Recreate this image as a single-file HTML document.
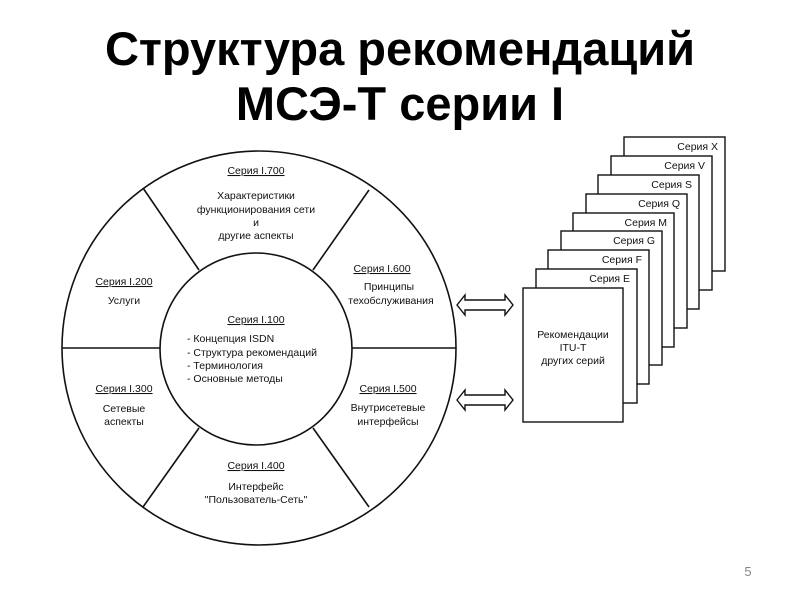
<!DOCTYPE html>
<html><head><meta charset="utf-8"><style>
body{margin:0;width:800px;height:600px;background:#fff;overflow:hidden;font-family:"Liberation Sans",sans-serif}
</style></head><body>
<svg width="800" height="600" xmlns="http://www.w3.org/2000/svg" font-family="Liberation Sans, sans-serif">
<text x="400" y="65" font-size="47" font-weight="bold" text-anchor="middle" fill="#000">Структура рекомендаций</text>
<text x="400" y="120" font-size="47" font-weight="bold" text-anchor="middle" fill="#000">МСЭ-Т серии I</text>
<text x="748" y="576" font-size="13" fill="#888" text-anchor="middle">5</text>
<g stroke="#111" stroke-width="1.6" fill="none">
<circle cx="259" cy="348" r="197"/>
<circle cx="256" cy="349" r="96"/>
<line x1="62" y1="348" x2="160" y2="348"/>
<line x1="352" y1="348" x2="456" y2="348"/>
<line x1="143" y1="188" x2="199" y2="270"/>
<line x1="369" y1="190" x2="313" y2="270"/>
<line x1="143" y1="507" x2="199" y2="428"/>
<line x1="369" y1="507" x2="313" y2="428"/>
</g>
<g font-size="10.5" fill="#111" text-anchor="middle">
<text x="256" y="174" text-decoration="underline">Серия I.700</text>
<text x="256" y="199">Характеристики</text>
<text x="256" y="213">функционирования сети</text>
<text x="256" y="226">и</text>
<text x="256" y="239">другие аспекты</text>
<text x="124" y="285" text-decoration="underline">Серия I.200</text>
<text x="124" y="304">Услуги</text>
<text x="382" y="272" text-decoration="underline">Серия I.600</text>
<text x="389" y="290">Принципы</text>
<text x="391" y="304">техобслуживания</text>
<text x="256" y="323" text-decoration="underline">Серия I.100</text>
<text x="187" y="342" text-anchor="start">- Концепция ISDN</text>
<text x="187" y="356" text-anchor="start">- Структура рекомендаций</text>
<text x="187" y="369" text-anchor="start">- Терминология</text>
<text x="187" y="382" text-anchor="start">- Основные методы</text>
<text x="124" y="392" text-decoration="underline">Серия I.300</text>
<text x="124" y="412">Сетевые</text>
<text x="124" y="425">аспекты</text>
<text x="388" y="392" text-decoration="underline">Серия I.500</text>
<text x="388" y="411">Внутрисетевые</text>
<text x="388" y="425">интерфейсы</text>
<text x="256" y="469" text-decoration="underline">Серия I.400</text>
<text x="256" y="490">Интерфейс</text>
<text x="256" y="503">"Пользователь-Сеть"</text>
</g>
<g stroke="#111" stroke-width="1.4" fill="#fff" font-size="10.5">
<rect x="624" y="137" width="101" height="134"/>
<rect x="611" y="156" width="101" height="134"/>
<rect x="598" y="175" width="101" height="134"/>
<rect x="586" y="194" width="101" height="134"/>
<rect x="573" y="213" width="101" height="134"/>
<rect x="561" y="231" width="101" height="134"/>
<rect x="548" y="250" width="101" height="134"/>
<rect x="536" y="269" width="101" height="134"/>
<rect x="523" y="288" width="100" height="134"/>
</g>
<g font-size="10.5" fill="#111" text-anchor="end">
<text x="718" y="150">Серия X</text>
<text x="705" y="169">Серия V</text>
<text x="692" y="188">Серия S</text>
<text x="680" y="207">Серия Q</text>
<text x="667" y="226">Серия M</text>
<text x="655" y="244">Серия G</text>
<text x="642" y="263">Серия F</text>
<text x="630" y="282">Серия E</text>
</g>
<g font-size="10.5" fill="#111" text-anchor="middle">
<text x="573" y="338">Рекомендации</text>
<text x="573" y="351">ITU-T</text>
<text x="573" y="364">других серий</text>
</g>
<g stroke="#111" stroke-width="1.4" fill="#fff">
<path d="M457 305 L465 295 L465 300 L505 300 L505 295 L513 305 L505 315 L505 310 L465 310 L465 315 Z"/>
<path d="M457 400 L465 390 L465 395 L505 395 L505 390 L513 400 L505 410 L505 405 L465 405 L465 410 Z"/>
</g>
</svg>
</body></html>
